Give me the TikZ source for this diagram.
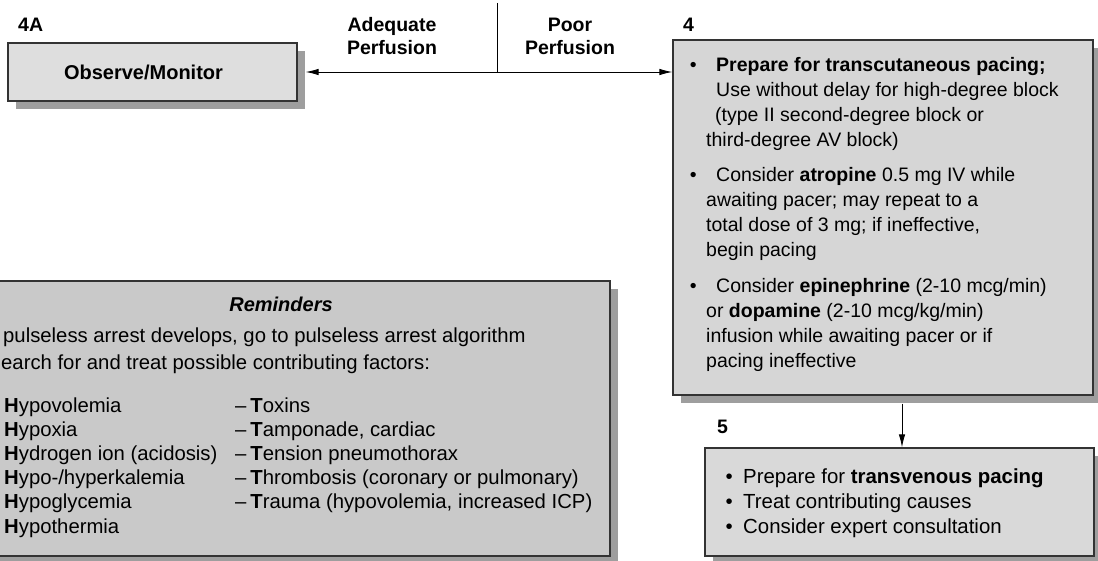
\documentclass[tikz,border=0pt]{standalone}
\usepackage{fontspec}
\setmainfont{Liberation Sans}
\usetikzlibrary{positioning,arrows.meta,shadows}
\tikzset{
  flow/.style  = {line width=0.9pt, -{Latex[length=13pt,width=6.5pt]}},
  sbox/.style  = {draw=black!80, line width=1.3pt, inner sep=0pt,
                  drop shadow={shadow xshift=8pt, shadow yshift=-8pt,
                  fill=black!38, opacity=1}},
  num/.style   = {font=\fontsize{19.5}{23}\selectfont\bfseries,
                  anchor=base west, inner sep=0pt},
  lbl/.style   = {font=\fontsize{19.5}{23}\selectfont\bfseries,
                  anchor=base, align=center, inner sep=0pt},
  txt/.style   = {font=\fontsize{19.5}{25}\selectfont, anchor=base west,
                  align=left, inner sep=0pt},
  rtxt/.style  = {font=\fontsize{20.3}{24.2}\selectfont, anchor=base west,
                  align=left, inner sep=0pt},
}
\newcommand{\itm}[1][19.5pt]{\llap{\textbullet\hspace{#1}}}

\begin{document}
\begin{tikzpicture}[x=1pt,y=-1pt]
  \useasboundingbox (0,0) rectangle (1098,561);
  % boxes
  \node[sbox, fill=black!13, minimum width=289pt, minimum height=58pt,
        font=\fontsize{20}{24}\selectfont\bfseries] (obs) at (152.5,72)
        {Observe/Monitor\hspace*{18pt}};
  \node[sbox, fill=black!16, minimum width=420pt, minimum height=355pt]
        (pace) at (883,217.5) {};
  \node[sbox, fill=black!15, minimum width=389pt, minimum height=108pt]
        (tvp) at (899.5,502) {};
  \node[sbox, fill=black!21, minimum width=620pt, minimum height=275pt]
        (remind) at (300,418.5) {};
  % step numbers
  \node[num] (l4a) at (18,32) {4A};
  \node[num] (l4) at (683,32) {4};
  \node[num] (l5) at (717,433) {5};
  % perfusion split (base = last line)
  \coordinate (split) at (497,3);
  \coordinate (fork) at (split |- obs.east);
  \draw[line width=0.9pt] (split) -- (fork);
  \draw[flow] (fork) -- ([xshift=8pt]obs.east);
  \draw[flow] (fork) -- (pace.west |- fork);
  \node[lbl] (adq) at (392,55) {Adequate\\Perfusion};
  \node[lbl] (poor) at (570,55) {Poor\\Perfusion};
  \draw[flow] ([xshift=19pt,yshift=-8pt]pace.south)
    -- ([xshift=19pt]pace.south |- tvp.north);
  % box 4
  \node[txt] (b1) at (706,147)
    {\hspace*{10pt}\itm\textbf{Prepare for transcutaneous pacing;}\\
     \hspace*{10pt}Use without delay for high-degree block\\
     \hspace*{9pt}(type II second-degree block or\\
     third-degree AV block)};
  \node[txt] (b2) at (706,257)
    {\hspace*{10pt}\itm Consider \textbf{atropine} 0.5 mg IV while\\
     awaiting pacer; may repeat to a\\
     total dose of 3 mg; if ineffective,\\
     begin pacing};
  \node[txt] (b3) at (706,367)
    {\hspace*{10pt}\itm Consider \textbf{epinephrine} (2-10 mcg/min)\\
     or \textbf{dopamine} (2-10 mcg/kg/min)\\
     infusion while awaiting pacer or if\\
     pacing ineffective};
  % box 5
  \node[txt, font=\fontsize{20.4}{25}\selectfont] (b5) at (743,533)
    {\itm[10.5pt]Prepare for \textbf{transvenous pacing}\\
     \itm[10.5pt]Treat contributing causes\\
     \itm[10.5pt]Consider expert consultation};
  % reminders
  \node[rtxt, anchor=base, font=\fontsize{20}{24}\selectfont\bfseries\itshape]
    (rtitle) at (281,312) {Reminders};
  \node[rtxt] (r1) at (3,342)
    {pulseless arrest develops, go to pulseless arrest algorithm};
  \node[rtxt] (r2) at (1,370)
    {earch for and treat possible contributing factors:};
  \node[rtxt] (hlist) at (4,533)
    {\textbf{H}ypovolemia\\ \textbf{H}ypoxia\\
     \textbf{H}ydrogen ion (acidosis)\\ \textbf{H}ypo-/hyperkalemia\\
     \textbf{H}ypoglycemia\\ \textbf{H}ypothermia};
  \node[rtxt] (tlist) at (235,508.8)
    {--\hspace{4pt}\textbf{T}oxins\\
     --\hspace{4pt}\textbf{T}amponade, cardiac\\
     --\hspace{4pt}\textbf{T}ension pneumothorax\\
     --\hspace{4pt}\textbf{T}hrombosis (coronary or pulmonary)\\
     --\hspace{4pt}\textbf{T}rauma (hypovolemia, increased ICP)};
\end{tikzpicture}
\end{document}
